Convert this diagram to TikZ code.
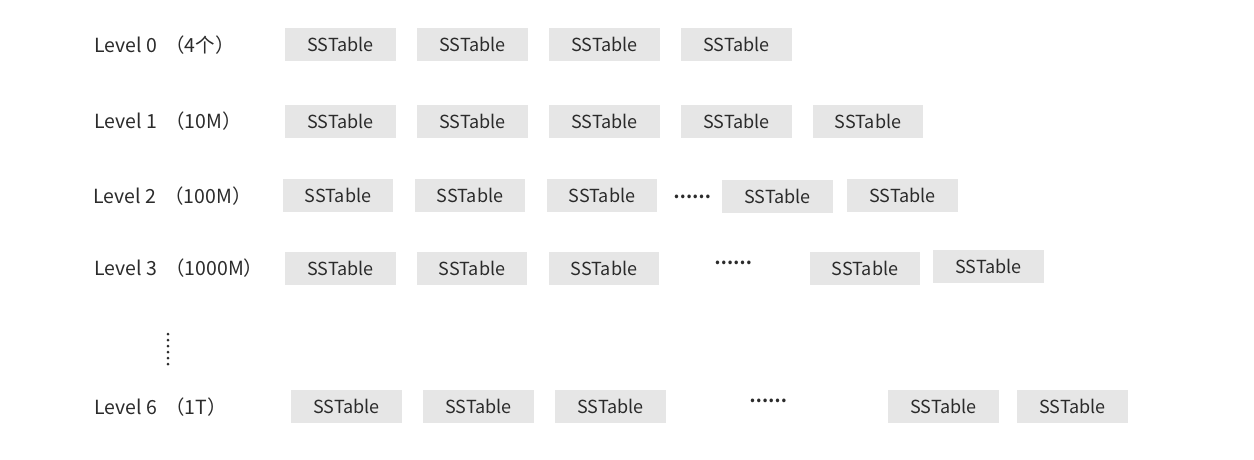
\documentclass[tikz,border=0pt]{standalone}
\usepackage{fontspec}
\newfontfamily\cjk{Noto Sans CJK SC}
\definecolor{boxgray}{HTML}{E6E6E6}
\definecolor{txt}{HTML}{2B2B2B}
\tikzset{
  sst/.style={fill=boxgray, minimum width=83pt, minimum height=24.75pt, inner sep=0pt, text=txt, font=\cjk\fontsize{13.5}{16}\selectfont},
  lvl/.style={anchor=west, inner sep=0pt, text=txt, font=\cjk\fontsize{14.6}{17}\selectfont},
  more/.style={inner sep=0pt, text=txt, font=\cjk\bfseries\fontsize{12.5}{14}\selectfont},
}
\begin{document}
\begin{tikzpicture}[x=0.75pt, y=-0.75pt]
\useasboundingbox[fill=white] (0,0) rectangle (1254,460);
% labels
\node[lvl] (l0) at (94,45) {Level 0\hspace{3pt} （4个）};
\node[lvl] (l1) at (94,121) {Level 1\hspace{3pt} （10M）};
\node[lvl] (l2) at (93,196) {Level 2\hspace{3pt} （100M）};
\node[lvl] (l3) at (94,268) {Level 3\hspace{3pt} （1000M）};
\node[lvl] (l6) at (94,407) {Level 6\hspace{3pt} （1T）};
% row 0
\node[sst] (a1) at (340.5,44.5) {SSTable};
\node[sst] (a2) at (472.5,44.5) {SSTable};
\node[sst] (a3) at (604.5,44.5) {SSTable};
\node[sst] (a4) at (736.5,44.5) {SSTable};
% row 1
\node[sst] (b1) at (340.5,121.5) {SSTable};
\node[sst] (b2) at (472.5,121.5) {SSTable};
\node[sst] (b3) at (604.5,121.5) {SSTable};
\node[sst] (b4) at (736.5,121.5) {SSTable};
\node[sst] (b5) at (868,121.5) {SSTable};
% row 2
\node[sst] (c1) at (338,195.5) {SSTable};
\node[sst] (c2) at (470,195.5) {SSTable};
\node[sst] (c3) at (602,195.5) {SSTable};
\node[more] (cd) at (692,197) {……};
\node[sst] (c4) at (777.5,196.5) {SSTable};
\node[sst] (c5) at (902.5,195) {SSTable};
% row 3
\node[sst] (d1) at (340.5,268) {SSTable};
\node[sst] (d2) at (472,268) {SSTable};
\node[sst] (d3) at (604,268) {SSTable};
\node[more] (dd) at (733,263) {……};
\node[sst] (d4) at (865,268.5) {SSTable};
\node[sst] (d5) at (988.5,266.5) {SSTable};
% vertical dots
\foreach \yy in {334,340,346,352,358,364} \fill[txt] (168,\yy) circle (1.5);
% row 6
\node[sst] (e1) at (346.5,406) {SSTable};
\node[sst] (e2) at (478.5,406) {SSTable};
\node[sst] (e3) at (610.5,406) {SSTable};
\node[more] (ed) at (768,401) {……};
\node[sst] (e4) at (943.5,406) {SSTable};
\node[sst] (e5) at (1072.5,406) {SSTable};
\end{tikzpicture}
\end{document}
